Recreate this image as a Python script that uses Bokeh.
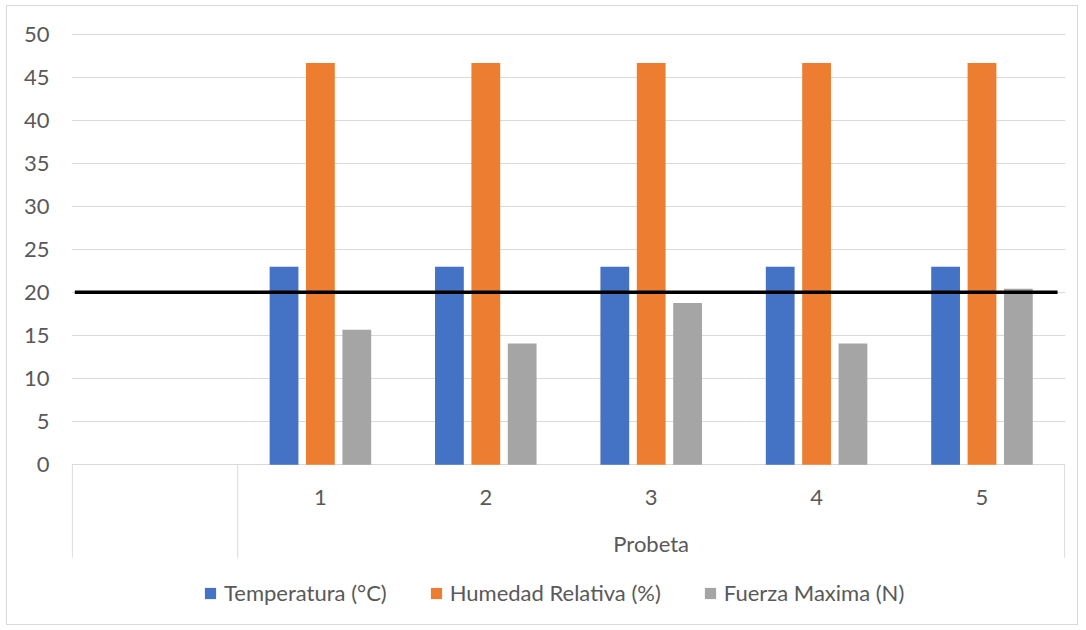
from bokeh.plotting import figure
from bokeh.models import Range1d, FixedTicker, LinearAxis, Legend, LegendItem, Grid, ColumnDataSource
from bokeh.core.properties import value
from bokeh.embed import file_html
from bokeh.resources import INLINE

# ---- data ----
categorias = ["", "1", "2", "3", "4", "5"]
grupo = "Probeta"
series = ["Temperatura (°C)", "Humedad Relativa (%)", "Fuerza Maxima (N)"]
temperatura = [23.0, 23.0, 23.0, 23.0, 23.0]
humedad = [46.7, 46.7, 46.7, 46.7, 46.7]
fuerza = [15.7, 14.1, 18.8, 14.1, 20.45]
limite = [20.05, 20.05]
limite_x = [0.015, 5.957]
y_ticks = [0, 5, 10, 15, 20, 25, 30, 35, 40, 45, 50]

colores = ["#4472C4", "#ED7D31", "#A5A5A5"]
FONT = "Lato"
FS = "22px"
GRIS_TXT = "#595959"
GRIS_LIN = "#D9D9D9"

# ---- layout (pixels) ----
W, H = 1072, 620
ML, MR, MT, MB = 64, 14, 24, 0
frame_h = H - MT - MB
px_per_unit = 8.606
y_end = 50 + 4 / px_per_unit
y_start = y_end - frame_h / px_per_unit
sep_bottom = -93 / px_per_unit        # depth of the category axis block
lab_y = -32.7 / px_per_unit           # category labels row
grp_y = -79 / px_per_unit             # group label row

n = len(categorias)
centros = [i + 0.5 for i in range(n)]
x_probetas = [centros[i] for i, c in enumerate(categorias) if c != ""]
lab_probetas = [c for c in categorias if c != ""]
grupo_centro = sum(x_probetas) / len(x_probetas)
grupo_ini = categorias.index(lab_probetas[0])

p = figure(width=W, height=H,
           x_range=Range1d(-0.005, n + 0.005), y_range=Range1d(y_start, y_end),
           x_axis_type=None, y_axis_type=None,
           output_backend="svg", toolbar_location=None,
           min_border_left=ML, min_border_right=MR,
           min_border_top=MT, min_border_bottom=MB)
p.outline_line_color = None
p.background_fill_color = "white"
p.border_fill_color = "white"
p.margin = (5, 0, 0, 6)
p.styles = {"border": "1px solid #D9D9D9"}

grid = Grid(dimension=1, ticker=FixedTicker(ticks=y_ticks),
            grid_line_color=GRIS_LIN, grid_line_width=1)
p.add_layout(grid)

# y axis
yax = LinearAxis(ticker=FixedTicker(ticks=y_ticks))
yax.axis_line_color = None
yax.major_tick_line_color = None
yax.minor_tick_line_color = None
yax.major_tick_out = 0
yax.major_tick_in = 0
yax.major_label_standoff = 22
yax.major_label_text_font = FONT
yax.major_label_text_font_size = FS
yax.major_label_text_color = GRIS_TXT
p.add_layout(yax, "left")

# category axis block (separators + labels)
seps = [0, grupo_ini, n]
p.segment(x0=seps, y0=[0] * 3, x1=seps, y1=[sep_bottom] * 3,
          line_color=GRIS_LIN, line_width=1)
p.text(x=x_probetas, y=[lab_y] * len(x_probetas), text=lab_probetas,
       text_font=value(FONT), text_font_size=FS, text_color=GRIS_TXT,
       text_align="center", text_baseline="middle")
p.text(x=[grupo_centro], y=[grp_y], text=[grupo],
       text_font=value(FONT), text_font_size=FS, text_color=GRIS_TXT,
       text_align="center", text_baseline="middle")

offset = 0.22
ancho = 0.174
valores = [temperatura, humedad, fuerza]
items = []
for k, (nombre, vals, col) in enumerate(zip(series, valores, colores)):
    xs = [x + (k - 1) * offset for x in x_probetas]
    r = p.vbar(x=xs, top=vals, bottom=0, width=ancho, fill_color=col, line_color=None)
    items.append(LegendItem(label=nombre, renderers=[r]))

p.line(x=limite_x, y=limite, line_color="black", line_width=3.5)

legend = Legend(items=items, orientation="horizontal", location=(132, 20))
legend.label_text_font = FONT
legend.label_text_font_size = FS
legend.label_text_color = GRIS_TXT
legend.glyph_width = 14
legend.glyph_height = 14
legend.label_standoff = 7
legend.spacing = 42
legend.padding = 0
legend.margin = 0
legend.border_line_color = None
legend.background_fill_alpha = 0
p.add_layout(legend, "center")

open("out.html", "w").write(file_html(p, INLINE))
